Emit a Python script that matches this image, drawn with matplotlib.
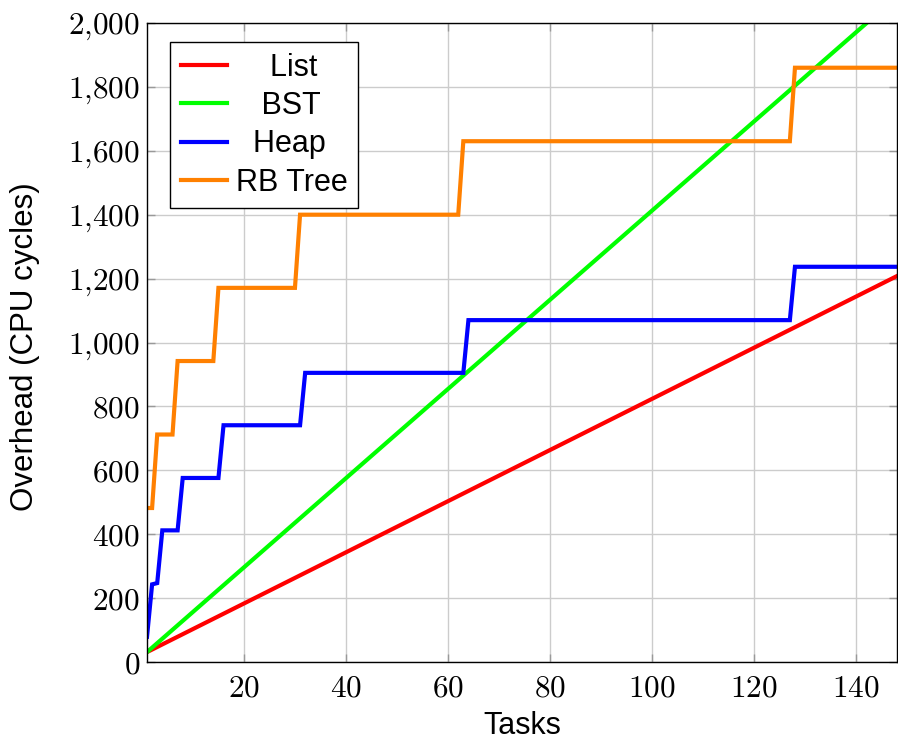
import matplotlib
matplotlib.use("Agg")
import matplotlib.pyplot as plt
from matplotlib.ticker import FuncFormatter

# ---- data ----
list_x = [1, 148]
list_y = [31, 1208]

bst_x = [1, 148]
bst_y = [31, 2083]

heap_x = [1, 2, 3, 4, 7, 8, 15, 16, 31, 32, 63, 64, 127, 128, 148]
heap_y = [79, 243, 247, 412, 412, 576, 576, 741, 741, 905, 905, 1070, 1070, 1237, 1237]

rb_x = [1, 2, 3, 6, 7, 14, 15, 30, 31, 62, 63, 127, 128, 148]
rb_y = [482, 482, 712, 712, 942, 942, 1171, 1171, 1400, 1400, 1630, 1630, 1860, 1860]

series_names = ["List", "BST", "Heap", "RB Tree"]
series_colors = ["#ff0000", "#00ff00", "#0000ff", "#ff8000"]

x_ticks = [20, 40, 60, 80, 100, 120, 140]
y_ticks = [0, 200, 400, 600, 800, 1000, 1200, 1400, 1600, 1800, 2000]

plt.rcParams["mathtext.fontset"] = "cm"

fig = plt.figure(figsize=(8.98, 7.42), dpi=100)
ax = fig.add_axes([147 / 898, 80 / 742, 750 / 898, 639 / 742])

# padding so the legend labels appear centred in their column
label_pad = {"List": "    ", "BST": "   ", "Heap": "  ", "RB Tree": ""}

data = [(list_x, list_y), (bst_x, bst_y), (heap_x, heap_y), (rb_x, rb_y)]
for (xs, ys), name, col in zip(data, series_names, series_colors):
    ax.plot(xs, ys, color=col, lw=3.0, label=label_pad[name] + name,
            solid_joinstyle="miter")

ax.set_xlim(1, 148)
ax.set_ylim(0, 2000)
ax.set_xticks(x_ticks)
ax.set_yticks(y_ticks)

def fmt(v, pos):
    s = f"{int(v):,}".replace(",", "{,}")
    return f"${s}$"

ax.xaxis.set_major_formatter(FuncFormatter(fmt))
ax.yaxis.set_major_formatter(FuncFormatter(fmt))
ax.tick_params(axis="both", which="major", direction="in", length=6, width=1,
               color="#999999", labelsize=22.5, top=True, right=True)
ax.tick_params(axis="y", pad=5)
ax.tick_params(axis="x", pad=8)

ax.grid(True, color="#cccccc", lw=1)
ax.set_axisbelow(True)
for sp in ax.spines.values():
    sp.set_linewidth(1.0)
    sp.set_color("black")

label_font = ["Liberation Sans Narrow", "Liberation Sans", "DejaVu Sans"]
ax.set_xlabel("Tasks", fontsize=22, family=label_font)
ax.set_ylabel("Overhead (CPU cycles)", fontsize=22.5, family=label_font)
ax.xaxis.set_label_coords(0.5, -0.077)
ax.yaxis.set_label_coords(-0.142, 0.493)

leg = ax.legend(loc="upper left", bbox_to_anchor=(0.0307, 0.970),
                prop={"family": ["Liberation Sans", "DejaVu Sans"], "size": 22},
                frameon=True, fancybox=False, edgecolor="black",
                handlelength=1.5, handletextpad=0.3, labelspacing=0.27,
                borderpad=0.35, borderaxespad=0)
leg.get_frame().set_linewidth(1.0)
leg.get_frame().set_alpha(1)

fig.savefig("out.png", dpi=100)
